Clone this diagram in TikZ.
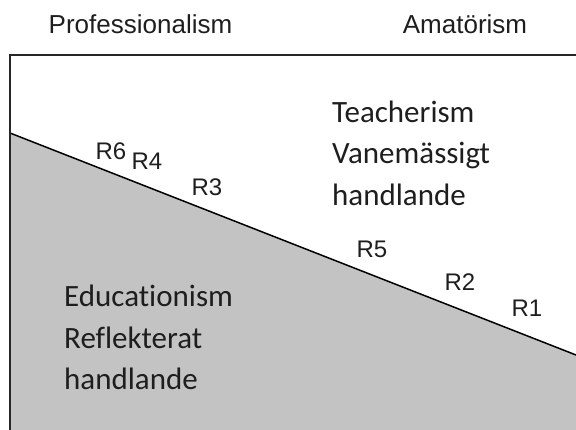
\documentclass[tikz,border=0pt]{standalone}
\usepackage{fontspec}
\newfontfamily\arialf{Liberation Sans}
\newfontfamily\calib[Ligatures=NoCommon]{Carlito}
\definecolor{fillgray}{RGB}{195,195,195}
\definecolor{txtdark}{RGB}{30,30,30}
\begin{document}
\begin{tikzpicture}[x=1pt,y=-1pt,
  toplabel/.style={font=\arialf\fontsize{26}{30}\selectfont, text=txtdark, inner sep=0pt, anchor=base},
  rlabel/.style={font=\arialf\fontsize{24}{27}\selectfont, text=txtdark, inner sep=0pt},
  zonetext/.style={font=\calib\fontsize{31}{41.5}\selectfont, text=txtdark, inner sep=0pt, align=left, anchor=north west},
  frame/.style={line width=1.8pt, draw=black!85}
]
\useasboundingbox (0,0) rectangle (576,430);
% regions
\coordinate (tl) at (10,55);
\coordinate (tr) at (576,55);
\coordinate (bl) at (10,430);
\coordinate (br) at (576,430);
\coordinate (ls) at (10,133);
\coordinate (le) at (576,355);
\fill[fillgray] (ls) -- (le) -- (br) -- (bl) -- cycle;
\draw[line width=1.5pt, black] (ls) -- (le);
\draw[frame] (tr) -- (tl) -- (bl);
% top labels
\node[toplabel] (prof) at (140.5,34) {Professionalism};
\node[toplabel] (amat) at (465,34) {Amatörism};
% zone texts
\node[zonetext] (teach) at (332,100.5) {Teacherism\\Vanemässigt\\handlande};
\node[zonetext] (educ) at (64,285) {Educationism\\Reflekterat\\handlande};
% R labels
\node[rlabel] (r6) at (111,151) {R6};
\node[rlabel] (r4) at (147,161) {R4};
\node[rlabel] (r3) at (207,187) {R3};
\node[rlabel] (r5) at (372,249) {R5};
\node[rlabel] (r2) at (460,282) {R2};
\node[rlabel] (r1) at (527,308) {R1};
\end{tikzpicture}
\end{document}
